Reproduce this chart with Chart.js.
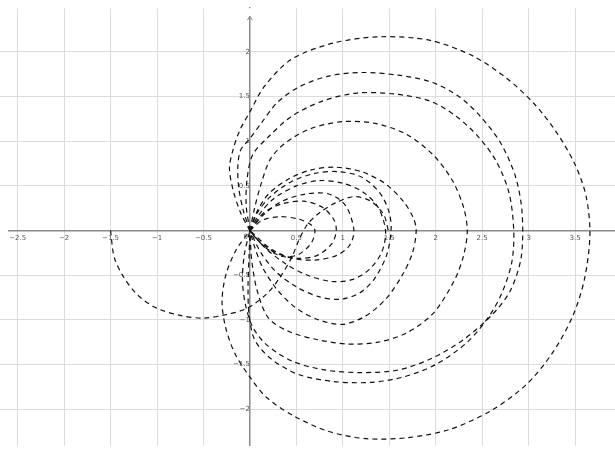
<!DOCTYPE html>
<html>
<head>
<meta charset="utf-8">
<script src="https://cdn.jsdelivr.net/npm/chart.js@4.4.1/dist/chart.umd.min.js"></script>
<style>
  html, body { margin: 0; padding: 0; background: #fff; }
  #wrap { width: 615px; height: 454px; }
</style>
</head>
<body>
<div id="wrap"><canvas id="myChart" width="615" height="454"></canvas></div>
<script>
// curves, [x, y] pairs, each loop starts and ends at the origin
var loopBig = [[0,0],[-0.1,0.2],[-0.18,0.45],[-0.22,0.7],[-0.18,0.91],[-0.11,1.12],[0,1.33],[0.16,1.62],[0.45,1.92],[0.9,2.1],[1.4,2.17],[1.94,2.13],[2.41,1.95],[2.77,1.7],[3.06,1.42],[3.3,1.1],[3.5,0.74],[3.62,0.38],[3.66,-0.05],[3.6,-0.55],[3.47,-0.97],[3.25,-1.38],[2.97,-1.73],[2.59,-2.02],[2.14,-2.23],[1.69,-2.32],[1.25,-2.33],[0.85,-2.25],[0.48,-2.08],[0.18,-1.87],[0,-1.64],[-0.16,-1.38],[-0.26,-1.09],[-0.3,-0.8],[-0.26,-0.5],[-0.15,-0.22],[0,0]];
var loopA = [[0,0],[-0.07,0.22],[-0.12,0.48],[-0.13,0.72],[-0.1,0.9],[0.0,1.03],[0.12,1.2],[0.3,1.44],[0.55,1.62],[0.85,1.73],[1.2,1.77],[1.6,1.74],[1.96,1.66],[2.25,1.5],[2.48,1.28],[2.7,0.98],[2.86,0.6],[2.93,0.2],[2.92,-0.3],[2.8,-0.68],[2.6,-0.95],[2.3,-1.22],[1.96,-1.43],[1.6,-1.56],[1.2,-1.59],[0.8,-1.56],[0.45,-1.46],[0.18,-1.28],[0.03,-1.08],[-0.05,-0.82],[-0.08,-0.55],[-0.06,-0.27],[0,0]];
var loopB = [[0,0],[-0.04,0.28],[-0.03,0.58],[0.03,0.85],[0.2,1.05],[0.45,1.28],[0.78,1.45],[1.15,1.54],[1.55,1.53],[1.94,1.45],[2.22,1.28],[2.45,1.06],[2.65,0.78],[2.79,0.42],[2.84,0],[2.82,-0.35],[2.72,-0.68],[2.58,-0.95],[2.34,-1.25],[2.0,-1.5],[1.65,-1.64],[1.3,-1.7],[0.9,-1.69],[0.52,-1.61],[0.22,-1.43],[0.05,-1.22],[-0.01,-0.93],[-0.02,-0.62],[-0.01,-0.3],[0,0]];
var loopC = [[0,0],[0.05,0.25],[0.12,0.52],[0.22,0.8],[0.38,0.98],[0.65,1.14],[1.0,1.22],[1.35,1.2],[1.68,1.08],[1.97,0.85],[2.18,0.56],[2.3,0.26],[2.34,0],[2.3,-0.28],[2.2,-0.56],[1.97,-0.93],[1.68,-1.15],[1.38,-1.25],[1.05,-1.27],[0.72,-1.22],[0.42,-1.13],[0.2,-0.98],[0.08,-0.68],[0.02,-0.34],[0,0]];
var loopD = [[0,0],[0.07,0.2],[0.2,0.41],[0.42,0.58],[0.66,0.68],[0.92,0.71],[1.2,0.66],[1.45,0.53],[1.65,0.33],[1.76,0.14],[1.79,0],[1.75,-0.25],[1.64,-0.5],[1.46,-0.77],[1.24,-0.96],[1.0,-1.05],[0.74,-1.0],[0.5,-0.87],[0.3,-0.67],[0.14,-0.42],[0.05,-0.18],[0,0]];
var loopE = [[0,0],[0.08,0.2],[0.22,0.38],[0.45,0.55],[0.7,0.64],[0.95,0.66],[1.2,0.6],[1.4,0.42],[1.5,0.2],[1.52,0],[1.47,-0.28],[1.34,-0.54],[1.18,-0.7],[0.97,-0.77],[0.74,-0.74],[0.5,-0.63],[0.28,-0.46],[0.12,-0.25],[0,0]];
var loopF = [[0,0],[0.1,0.18],[0.26,0.36],[0.5,0.5],[0.75,0.56],[1.0,0.53],[1.22,0.43],[1.38,0.26],[1.46,0],[1.42,-0.24],[1.28,-0.44],[1.1,-0.55],[0.88,-0.57],[0.62,-0.5],[0.38,-0.37],[0.16,-0.19],[0,0]];
var loopG = [[0,0],[0.15,0.18],[0.35,0.33],[0.6,0.41],[0.85,0.41],[1.03,0.28],[1.12,0],[1.07,-0.17],[0.93,-0.28],[0.7,-0.33],[0.45,-0.31],[0.22,-0.2],[0,0]];
var loopH = [[0,0],[0.15,0.2],[0.35,0.3],[0.58,0.33],[0.78,0.26],[0.9,0.13],[0.93,0],[0.88,-0.15],[0.72,-0.28],[0.5,-0.31],[0.28,-0.25],[0.1,-0.12],[0,0]];
var loopI = [[0,0],[0.14,0.12],[0.32,0.155],[0.52,0.13],[0.65,0.07],[0.7,0],[0.66,-0.14],[0.52,-0.27],[0.35,-0.29],[0.18,-0.2],[0.06,-0.08],[0,0]];
var arcLeft = [[-1.5,0],[-1.46,-0.3],[-1.36,-0.52],[-1.2,-0.73],[-1.0,-0.87],[-0.75,-0.95],[-0.5,-0.98],[-0.25,-0.94],[-0.03,-0.87],[0.18,-0.71],[0.32,-0.53],[0.45,-0.3],[0.53,-0.1],[0.62,0.07],[0.75,0.2],[0.92,0.31],[1.12,0.38],[1.3,0.33],[1.44,0.18],[1.49,0]];

var curves = [loopBig, loopA, loopB, loopC, loopD, loopE, loopF, loopG, loopH, loopI, arcLeft];

var xTicks = { min: -2.69, max: 3.93, step: 0.5 };
var yTicks = { min: -2.41, max: 2.49, step: 0.5 };

function fmt(v) {
    var s = String(Math.round(v * 10) / 10);
    return s.replace('-', '\u2212');
}

var ctx = document.getElementById('myChart').getContext('2d');

var datasets = curves.map(function (pts) {
    return {
        data: pts.map(function (p) { return { x: p[0], y: p[1] }; }),
        showLine: true,
        borderColor: '#111',
        borderWidth: 1.2,
        borderDash: [5, 4],
        pointRadius: 0,
        tension: 0.3,
        fill: false
    };
});

// axis ends (axes stop a few px short of the edge, arrow on top) and the "0" label
var axisPlugin = {
    id: 'axisEnds',
    afterDraw: function (chart) {
        var c = chart.ctx;
        var area = chart.chartArea;
        var x0 = chart.scales.x.getPixelForValue(0);
        var y0 = chart.scales.y.getPixelForValue(0);
        var tip = area.top + 8;
        c.save();
        c.fillStyle = '#fff';
        c.fillRect(x0 - 2, area.top, 4, tip - area.top);
        c.fillRect(area.left, y0 - 2, 8, 4);
        c.strokeStyle = '#8a8a8a';
        c.lineWidth = 1;
        c.beginPath();
        c.moveTo(x0 - 2.5, tip + 4);
        c.lineTo(x0, tip);
        c.lineTo(x0 + 2.5, tip + 4);
        c.stroke();
        c.fillStyle = '#555';
        c.font = '7px "DejaVu Sans"';
        c.textAlign = 'right';
        c.textBaseline = 'top';
        c.fillText('0', x0 - 2, y0 + 3);
        c.restore();
    }
};

var chart = new Chart(ctx, {
    type: 'scatter',
    data: { datasets: datasets },
    options: {
        responsive: false,
        animation: false,
        layout: { padding: 0 },
        plugins: { legend: { display: false }, tooltip: { enabled: false } },
        scales: {
            x: {
                type: 'linear',
                min: xTicks.min,
                max: xTicks.max,
                position: { y: 0 },
                grid: { color: '#dcdcdc', lineWidth: 1, drawTicks: false },
                border: { color: '#8a8a8a', width: 1.5 },
                ticks: {
                    stepSize: xTicks.step,
                    includeBounds: false,
                    padding: 3,
                    color: '#555',
                    font: { family: 'DejaVu Sans', size: 7 },
                    maxRotation: 0,
                    autoSkip: false,
                    callback: function (v) { return Math.abs(v) < 1e-9 ? '' : fmt(v); }
                }
            },
            y: {
                type: 'linear',
                min: yTicks.min,
                max: yTicks.max,
                position: { x: 0 },
                grid: { color: '#dcdcdc', lineWidth: 1, drawTicks: false },
                border: { color: '#8a8a8a', width: 1.5 },
                ticks: {
                    stepSize: yTicks.step,
                    includeBounds: false,
                    padding: 4,
                    color: '#555',
                    font: { family: 'DejaVu Sans', size: 7 },
                    autoSkip: false,
                    callback: function (v) { return Math.abs(v) < 1e-9 ? '' : fmt(v); }
                }
            }
        }
    },
    plugins: [axisPlugin]
});
</script>
</body>
</html>
